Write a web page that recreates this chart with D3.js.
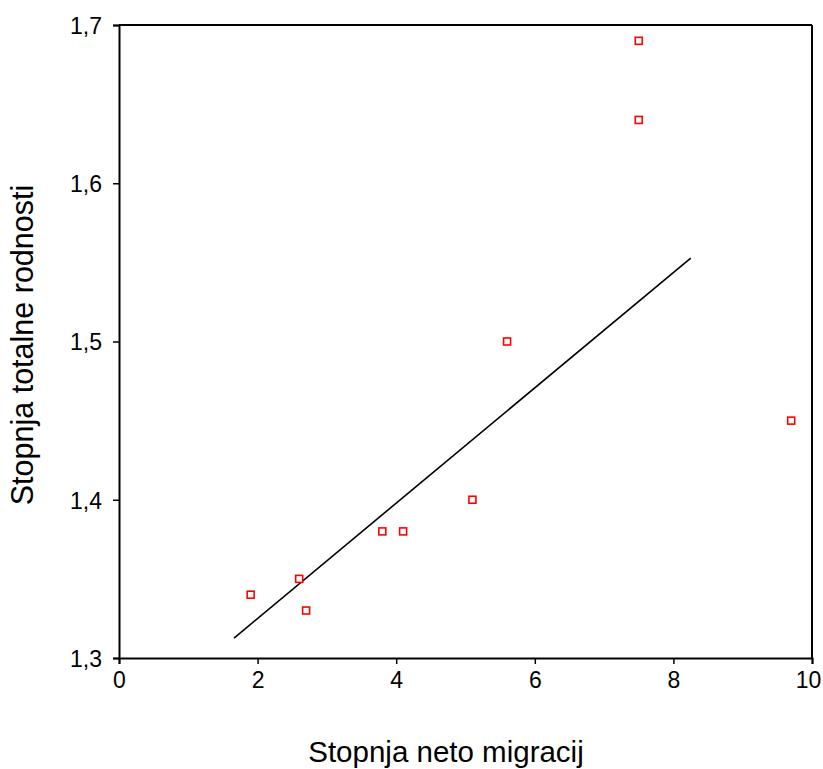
<!DOCTYPE html>
<html>
<head>
<meta charset="utf-8">
<script src="https://cdn.jsdelivr.net/npm/d3@7"></script>
<style>
  html, body { margin: 0; padding: 0; background: #fff; }
  svg { display: block; font-family: "Liberation Sans", Arial, sans-serif; }
</style>
</head>
<body>
<svg id="chart" width="823" height="769"></svg>
<script>
// Data
const migration = [1.9, 2.6, 2.7, 3.8, 4.1, 5.1, 5.6, 7.5, 7.5, 9.7];
const fertility = [1.34, 1.35, 1.33, 1.38, 1.38, 1.40, 1.50, 1.69, 1.64, 1.45];
const fitX = [1.66, 8.25];
const fitY = [1.3126, 1.5527];
const xTicks = [0, 2, 4, 6, 8, 10];
const yTicks = [1.3, 1.4, 1.5, 1.6, 1.7];
const xTitle = "Stopnja neto migracij";
const yTitle = "Stopnja totalne rodnosti";

const svg = d3.select("#chart");
const mLeft = 119, mRight = 812, mTop = 25, mBottom = 658;

const x = d3.scaleLinear().domain([0, 10]).range([mLeft, mRight]);
const y = d3.scaleLinear().domain([1.3, 1.7]).range([mBottom, mTop]);

const fmtY = d => d3.format(".1f")(d).replace(".", ",");

// frame (top & right)
svg.append("line").attr("x1", mLeft).attr("x2", mRight).attr("y1", mTop).attr("y2", mTop)
  .attr("stroke", "#000").attr("stroke-width", 2);
svg.append("line").attr("x1", mRight).attr("x2", mRight).attr("y1", mTop).attr("y2", mBottom)
  .attr("stroke", "#000").attr("stroke-width", 2);

// x axis
const xAxis = svg.append("g").attr("transform", `translate(0,${mBottom})`)
  .call(d3.axisBottom(x).tickValues(xTicks).tickFormat(d3.format("d")).tickSize(6).tickPadding(8));
// y axis
const yAxis = svg.append("g").attr("transform", `translate(${mLeft},0)`)
  .call(d3.axisLeft(y).tickValues(yTicks).tickFormat(fmtY).tickSize(6).tickPadding(11));

[xAxis, yAxis].forEach(g => {
  g.select(".domain").attr("stroke", "#000").attr("stroke-width", 2);
  g.selectAll(".tick line").attr("stroke", "#000").attr("stroke-width", 1.5);
  g.selectAll(".tick text").attr("fill", "#000").style("font-size", "23px")
    .style("font-family", "'Liberation Sans', Arial, sans-serif");
});
yAxis.selectAll(".tick text").attr("dy", "0.36em");
// last x label sits slightly left so it stays inside the picture
xAxis.selectAll(".tick text").filter(d => d === 10).attr("dx", -4);

// regression line
const fit = fitX.map((v, i) => [v, fitY[i]]);
svg.append("path")
  .datum(fit)
  .attr("d", d3.line().x(d => x(d[0])).y(d => y(d[1])))
  .attr("fill", "none").attr("stroke", "#000").attr("stroke-width", 1.6);

// points
const pts = migration.map((v, i) => ({ x: v, y: fertility[i] }));
svg.append("g").selectAll("rect").data(pts).join("rect")
  .attr("x", d => x(d.x) - 3.5).attr("y", d => y(d.y) - 3.5)
  .attr("width", 7).attr("height", 7)
  .attr("fill", "#fff").attr("stroke", "#ff0000").attr("stroke-width", 1.6);

// axis titles
svg.append("text").attr("x", 446).attr("y", 762).attr("text-anchor", "middle")
  .style("font-size", "29.5px").attr("fill", "#000").text(xTitle);
svg.append("text").attr("transform", "translate(33,345) rotate(-90)").attr("text-anchor", "middle")
  .style("font-size", "30.5px").attr("fill", "#000").text(yTitle);
</script>
</body>
</html>
